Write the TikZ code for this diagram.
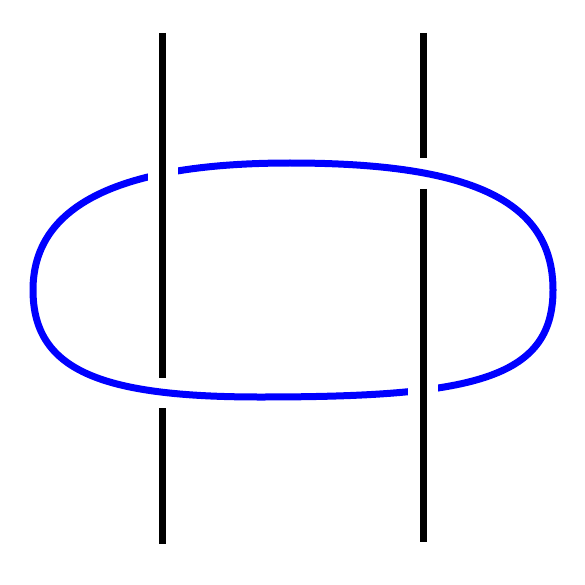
\documentclass[tikz,border=0pt]{standalone}
\begin{document}
\begin{tikzpicture}[x=1pt,y=-1pt,
  strand/.style={line width=7pt,black},
  overstrand/.style={line width=7pt,black,preaction={draw,white,line width=30pt}},
  loopline/.style={line width=7pt,blue!100,color={rgb,255:red,0;green,0;blue,255}}]
\useasboundingbox (0,0) rectangle (585,585);
\coordinate (LT) at (162.5,33);
\coordinate (LB) at (162.5,544);
\coordinate (LG1) at (162.5,378);
\coordinate (LG2) at (162.5,408);
\coordinate (RT) at (423,33);
\coordinate (RB) at (423,542);
\coordinate (RG1) at (423,158);
\coordinate (RG2) at (423,189);
\coordinate (top) at (290,163);
\coordinate (right) at (553,290);
\coordinate (bot) at (260,397);
\coordinate (left) at (33,290);
% under parts of black strands
\draw[strand] (LG2) -- (LB);
\draw[strand] (RT) -- (RG1);
% blue loop
\draw[loopline] (top) .. controls (470,163) and (553,200) .. (right)
  .. controls (553,380) and (470,397) .. (bot)
  .. controls (100,397) and (33,370) .. (left)
  .. controls (33,210) and (110,163) .. (top) -- cycle;
% over parts of black strands
\draw[overstrand] (LT) -- (LG1);
\draw[overstrand] (RG2) -- (RB);
\end{tikzpicture}
\end{document}
